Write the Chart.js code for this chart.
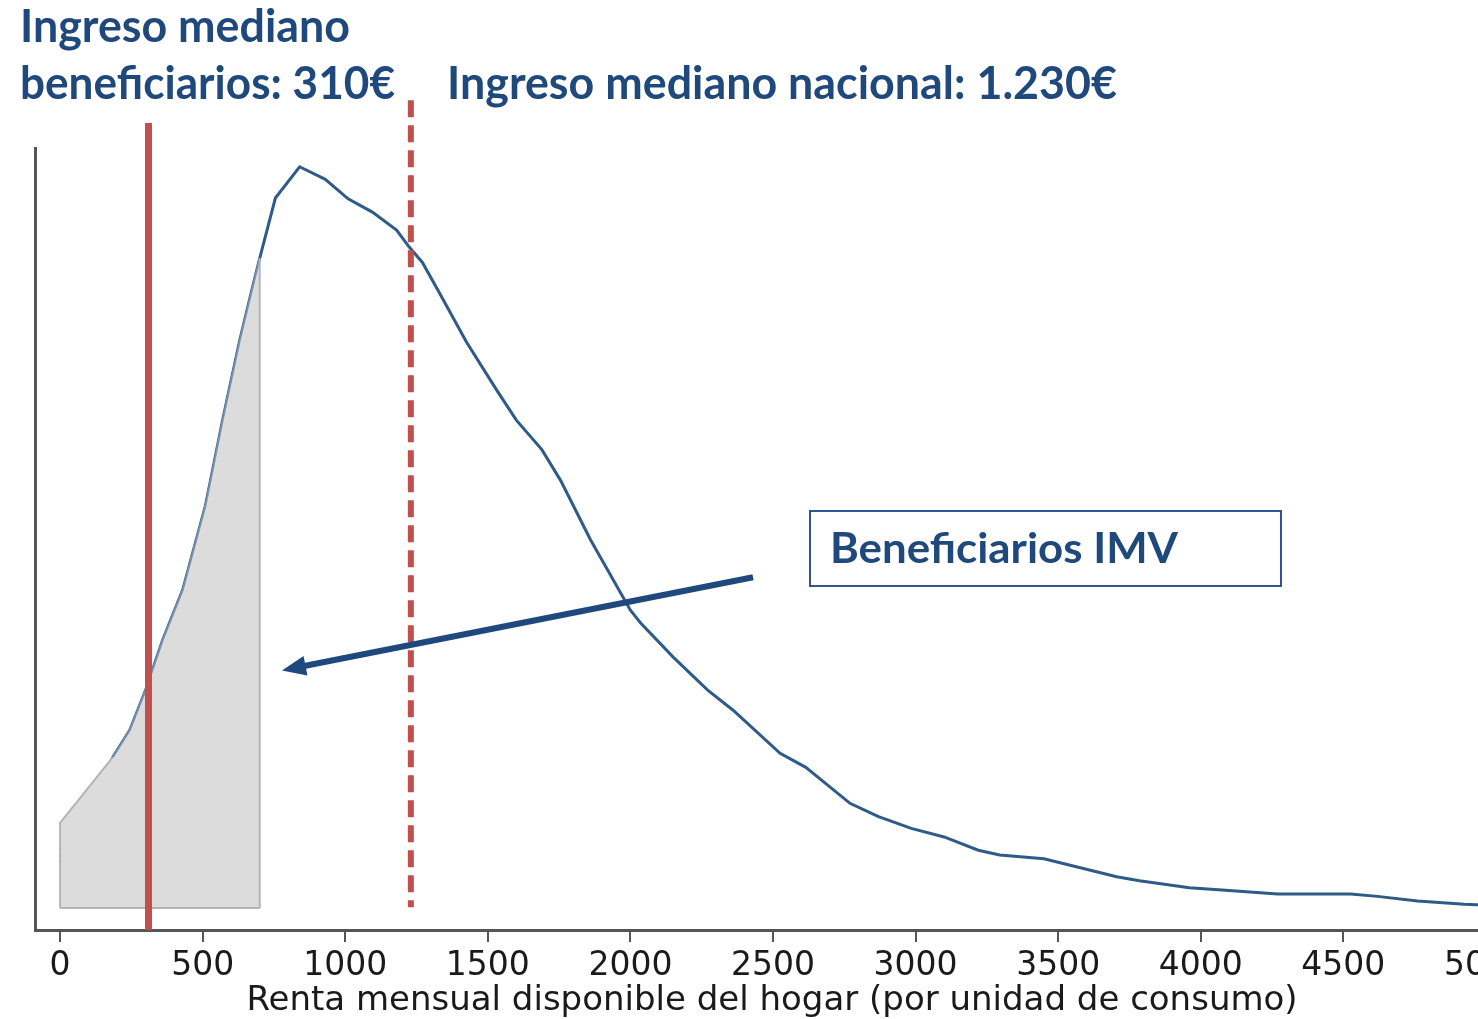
<!DOCTYPE html>
<html lang="es">
<head>
<meta charset="utf-8">
<title>Renta mensual disponible del hogar</title>
<script src="https://cdn.jsdelivr.net/npm/chart.js@4.4.1/dist/chart.umd.min.js"></script>
<style>
    html, body { margin: 0; padding: 0; background: #fff; overflow: hidden; }
    #wrap { position: relative; width: 1515px; height: 1019px; }
    #grafica { position: absolute; left: 0; top: 0; }
    .nota {
        position: absolute;
        font-family: Lato, "Open Sans", sans-serif;
        font-weight: 700;
        color: #1f497d;
        white-space: nowrap;
        line-height: 1;
        transform-origin: 0 0;
    }
    #caja {
        position: absolute;
        left: 809px; top: 510px;
        width: 469px; height: 73px;
        border: 2px solid #2f5597;
    }
</style>
</head>
<body>
<div id="wrap">
    <canvas id="grafica" width="1515" height="1019"></canvas>
    <div id="caja"></div>
</div>
<script>
"use strict";

// renta (€/mes) y densidad (unidades arbitrarias)
const rentaX = [0, 185, 245, 300, 360, 430, 510, 570, 630, 675,
    700, 755, 840, 930, 1010, 1095, 1180, 1225, 1270, 1330,
    1425, 1530, 1600, 1690, 1755, 1860, 2000, 2035, 2150, 2270,
    2360, 2525, 2615, 2770, 2870, 2985, 3100, 3220, 3295, 3450,
    3585, 3705, 3785, 3960, 4075, 4270, 4525, 4620, 4760, 4925, 5050];
const densidadNacional = [9.3, 22.1, 25.6, 30.7, 37.1, 43.5, 54.3, 65.2, 75.4, 82.2,
    85.9, 93.6, 97.6, 96.0, 93.5, 91.8, 89.5, 87.3, 85.4, 81.5,
    75.2, 69.1, 65.2, 61.4, 57.5, 49.9, 40.9, 39.3, 34.9, 30.7,
    28.1, 22.6, 20.8, 16.2, 14.5, 13.0, 11.9, 10.2, 9.6, 9.1,
    7.9, 6.8, 6.3, 5.4, 5.1, 4.6, 4.6, 4.3, 3.7, 3.3, 3.1];

// zona sombreada de beneficiarios IMV
const rentaBenef = [0, 0, 185, 245, 300, 360, 430, 510, 570, 630, 675, 700, 700];
const densidadBenef = [2.8, 13.7, 22.1, 25.6, 30.7, 37.1, 43.5, 54.3, 65.2, 75.4, 82.2, 85.9, 2.8];
const baseBenef = 2.8;

const ticksX = [0, 500, 1000, 1500, 2000, 2500, 3000, 3500, 4000, 4500, 5000];

const medianaBenef = 310;
const medianaNacional = 1230;

const azulLinea = '#2f5b88';
const azulTexto = '#1f497d';
const rojo = '#c0504d';
const gris = '#555555';
const grisBorde = '#b4b4b4';

// flecha "Beneficiarios IMV" (en unidades de los ejes)
const flecha = { x0: 2430, y0: 45.1, x1: 778, y1: 33.2 };

const notas = [
    { texto: 'Ingreso mediano', left: 20, top: 2, size: 46, ancho: 330 },
    { texto: 'beneficiarios: 310€', left: 20, top: 59, size: 46, ancho: 375 },
    { texto: 'Ingreso mediano nacional: 1.230€', left: 447, top: 59, size: 46, ancho: 670 },
    { texto: 'Beneficiarios IMV', left: 830, top: 526, size: 42, ancho: 348 }
];

const wrap = document.getElementById('wrap');
notas.forEach(n => {
    const el = document.createElement('div');
    el.className = 'nota';
    el.textContent = n.texto;
    el.style.left = n.left + 'px';
    el.style.top = n.top + 'px';
    el.style.fontSize = n.size + 'px';
    wrap.appendChild(el);
    const natural = el.getBoundingClientRect().width;
    if (natural > 0) el.style.transform = 'scaleX(' + (n.ancho / natural) + ')';
});

const anotaciones = {
    id: 'anotaciones',
    afterDatasetsDraw(chart) {
        const { ctx, scales: { x, y } } = chart;
        ctx.save();

        // mediana beneficiarios
        let px = x.getPixelForValue(medianaBenef);
        ctx.strokeStyle = rojo;
        ctx.lineWidth = 7;
        ctx.beginPath();
        ctx.moveTo(px, y.getPixelForValue(103.2));
        ctx.lineTo(px, y.getPixelForValue(0));
        ctx.stroke();

        // mediana nacional
        px = x.getPixelForValue(medianaNacional);
        ctx.lineWidth = 6;
        ctx.setLineDash([17, 8]);
        ctx.beginPath();
        ctx.moveTo(px, y.getPixelForValue(106.1));
        ctx.lineTo(px, y.getPixelForValue(2.9));
        ctx.stroke();
        ctx.setLineDash([]);

        // flecha
        const ax0 = x.getPixelForValue(flecha.x0), ay0 = y.getPixelForValue(flecha.y0);
        const ax1 = x.getPixelForValue(flecha.x1), ay1 = y.getPixelForValue(flecha.y1);
        const ang = Math.atan2(ay1 - ay0, ax1 - ax0);
        const largo = 24, ancho = 10;
        const bx = ax1 - largo * Math.cos(ang), by = ay1 - largo * Math.sin(ang);
        ctx.strokeStyle = azulTexto;
        ctx.fillStyle = azulTexto;
        ctx.lineWidth = 6;
        ctx.beginPath();
        ctx.moveTo(ax0, ay0);
        ctx.lineTo(bx + 4 * Math.cos(ang), by + 4 * Math.sin(ang));
        ctx.stroke();
        ctx.beginPath();
        ctx.moveTo(ax1, ay1);
        ctx.lineTo(bx + ancho * Math.sin(ang), by - ancho * Math.cos(ang));
        ctx.lineTo(bx - ancho * Math.sin(ang), by + ancho * Math.cos(ang));
        ctx.closePath();
        ctx.fill();

        ctx.restore();
    }
};

const puntosBenef = rentaBenef.map((v, i) => ({ x: v, y: densidadBenef[i] }));

new Chart(document.getElementById('grafica').getContext('2d'), {
    type: 'line',
    data: {
        datasets: [
            {
                // borde inferior del área sombreada
                label: 'base',
                data: [{ x: rentaBenef[0], y: baseBenef }, { x: rentaBenef[rentaBenef.length - 1], y: baseBenef }],
                borderColor: grisBorde,
                borderWidth: 2,
                fill: false,
                pointRadius: 0
            },
            {
                // contorno del área sombreada
                label: 'contorno',
                data: puntosBenef,
                borderColor: grisBorde,
                borderWidth: 2,
                fill: false,
                pointRadius: 0,
                tension: 0,
                segment: {
                    borderColor: c => (c.p0DataIndex >= 2 && c.p0DataIndex <= 10) ? '#7890aa' : undefined
                }
            },
            {
                label: 'Beneficiarios IMV',
                data: puntosBenef,
                borderWidth: 0,
                borderColor: 'rgba(0,0,0,0)',
                backgroundColor: '#dcdcdc',
                fill: { value: baseBenef },
                pointRadius: 0,
                tension: 0
            },
            {
                label: 'Nacional',
                data: rentaX.map((v, i) => ({ x: v, y: densidadNacional[i] })),
                borderColor: azulLinea,
                borderWidth: 3,
                fill: false,
                pointRadius: 0,
                tension: 0
            }
        ]
    },
    options: {
        responsive: false,
        animation: false,
        layout: { padding: { top: 148, left: 35, right: 6, bottom: 1 } },
        plugins: {
            legend: { display: false },
            tooltip: { enabled: false }
        },
        scales: {
            x: {
                type: 'linear',
                min: -88,
                max: 5081,
                afterBuildTicks: s => { s.ticks = ticksX.map(v => ({ value: v })); },
                afterFit: s => { s.paddingLeft = 0; s.paddingRight = 0; },
                grid: { display: true, drawOnChartArea: false, drawTicks: true, tickLength: 12, color: gris, lineWidth: 2 },
                border: { display: true, color: gris, width: 3 },
                ticks: {
                    font: { family: '"DejaVu Sans", sans-serif', size: 33, lineHeight: 1 },
                    color: '#1a1a1a',
                    padding: 8,
                    maxRotation: 0,
                    autoSkip: false,
                    callback: v => String(v)
                },
                title: {
                    display: true,
                    text: 'Renta mensual disponible del hogar (por unidad de consumo)',
                    font: { family: '"DejaVu Sans", sans-serif', size: 34, lineHeight: 1 },
                    color: '#1a1a1a',
                    padding: { top: -7, bottom: 0 }
                }
            },
            y: {
                min: 0,
                max: 100,
                ticks: { display: false },
                grid: { display: false, drawTicks: false },
                border: { display: true, color: gris, width: 3 }
            }
        }
    },
    plugins: [anotaciones]
});
</script>
</body>
</html>
